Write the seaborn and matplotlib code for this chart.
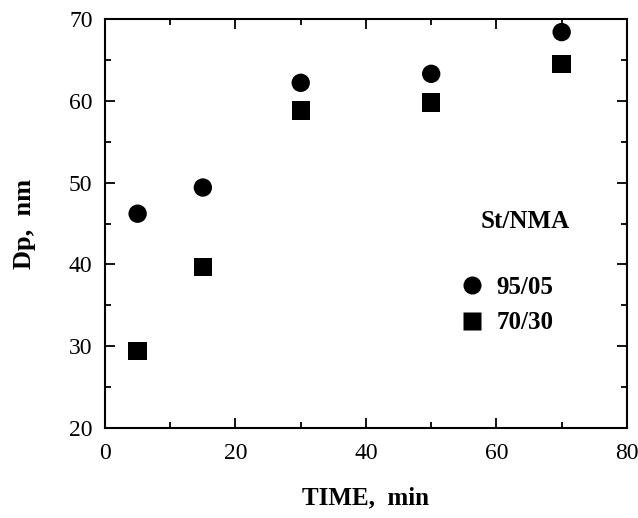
import numpy as np
import pandas as pd
import matplotlib
matplotlib.use("Agg")
import matplotlib.pyplot as plt
from matplotlib.ticker import MultipleLocator
import seaborn as sns

# --- DATOS ---
tiempo = [5, 15, 30, 50, 70]
dp_95_05 = [46.2, 49.4, 62.2, 63.3, 68.4]
dp_70_30 = [29.4, 39.7, 58.8, 59.8, 64.5]
composiciones = ["95/05", "70/30"]

df = pd.DataFrame({
    "tiempo": tiempo * 2,
    "dp": dp_95_05 + dp_70_30,
    "comp": [composiciones[0]] * len(tiempo) + [composiciones[1]] * len(tiempo),
})

sns.set_style("ticks")
plt.rcParams["font.family"] = ["Liberation Serif", "DejaVu Serif"]
plt.rcParams["text.color"] = "black"
plt.rcParams["axes.labelcolor"] = "black"
plt.rcParams["xtick.color"] = "black"
plt.rcParams["ytick.color"] = "black"

fig = plt.figure(figsize=(6.38, 5.18), dpi=100)
ax = fig.add_axes([0.1646, 0.1737, 0.818, 0.7896])

sns.scatterplot(data=df, x="tiempo", y="dp", style="comp", hue="comp",
                markers={"95/05": "o", "70/30": "s"},
                palette={"95/05": "black", "70/30": "black"},
                s=175, edgecolor="none", ax=ax)

ax.set_xlim(0, 80)
ax.set_ylim(20, 70)
ax.xaxis.set_major_locator(MultipleLocator(20))
ax.xaxis.set_minor_locator(MultipleLocator(10))
ax.yaxis.set_major_locator(MultipleLocator(10))
ax.yaxis.set_minor_locator(MultipleLocator(5))

for s in ax.spines.values():
    s.set_visible(True)
    s.set_linewidth(1.5)
    s.set_color("black")

ax.tick_params(which="both", direction="in", top=True, right=True, width=1.3)
ax.tick_params(which="major", length=7, labelsize=17)
ax.tick_params(which="minor", length=4)
ax.tick_params(axis="x", which="major", pad=11)
ax.tick_params(axis="y", which="major", pad=9)

ax.set_xlabel("TIME,  min", fontsize=18, fontweight="bold", labelpad=16)
ax.set_ylabel("Dp,  nm", fontsize=19, fontweight="bold", labelpad=24)

# leyenda
ax.text(0.806, 0.506, "St/NMA", transform=ax.transAxes, ha="center", va="center",
        fontsize=18, fontweight="bold")
leg = ax.legend(loc="center left", bbox_to_anchor=(0.679, 0.3007), frameon=False,
                prop={"size": 18, "weight": "bold"}, handletextpad=0.5,
                labelspacing=0.5, borderpad=0, borderaxespad=0, handlelength=1.0)
for h in leg.legend_handles:
    h.set_markersize(13)

fig.savefig("out.png", dpi=100)
